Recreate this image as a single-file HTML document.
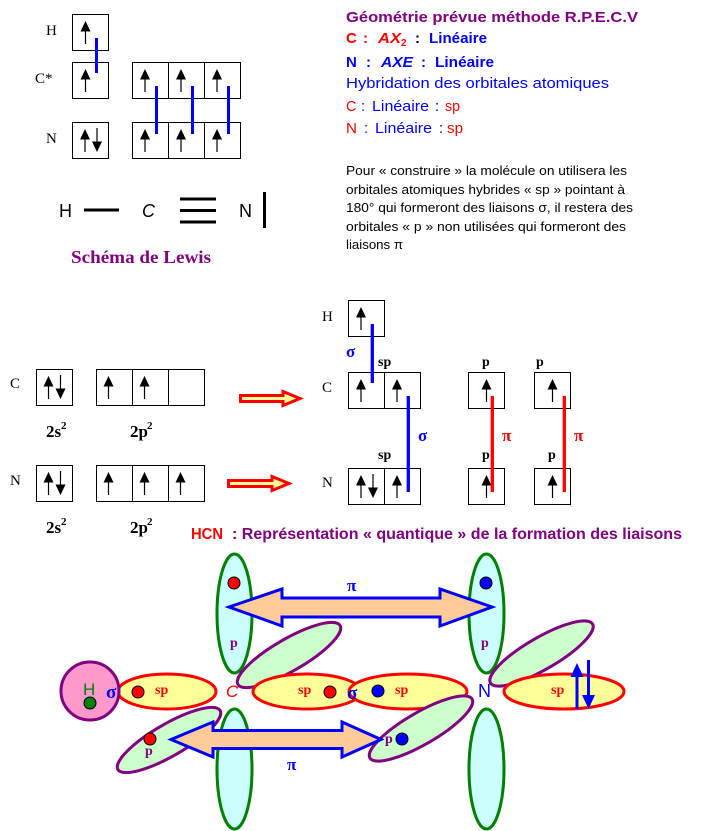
<!DOCTYPE html>
<html><head><meta charset="utf-8"><style>
html,body{margin:0;padding:0;background:#fff;}
svg{display:block;}
.sans{font-family:"Liberation Sans",sans-serif;}
.serif{font-family:"Liberation Serif",serif;}
</style></head><body>
<svg width="722" height="831" viewBox="0 0 722 831" xmlns="http://www.w3.org/2000/svg">
<defs>
<g id="ua"><line x1="0" y1="14" x2="0" y2="30" stroke="#000" stroke-width="1.2"/><polygon points="0,7 -5,17.5 5,17.5" fill="#000"/></g>
<g id="da"><line x1="0" y1="6" x2="0" y2="22" stroke="#000" stroke-width="1.2"/><polygon points="-5,19.5 5,19.5 0,30" fill="#000"/></g>
</defs>
<rect width="722" height="831" fill="#fff"/>

<!-- ===== Top-left orbital diagram ===== -->
<g fill="none" stroke="#000" stroke-width="1">
<rect x="72.5" y="14.5" width="36" height="36"/>
<rect x="72.5" y="62.5" width="36" height="36"/>
<rect x="132.5" y="62.5" width="108" height="36"/>
<line x1="168.5" y1="62.5" x2="168.5" y2="98.5"/><line x1="204.5" y1="62.5" x2="204.5" y2="98.5"/>
<rect x="72.5" y="122.5" width="36" height="36"/>
<rect x="132.5" y="122.5" width="108" height="36"/>
<line x1="168.5" y1="122.5" x2="168.5" y2="158.5"/><line x1="204.5" y1="122.5" x2="204.5" y2="158.5"/>
</g>
<use href="#ua" transform="translate(85.5,14)"/>
<use href="#ua" transform="translate(85.5,62)"/>
<use href="#ua" transform="translate(145,62)"/>
<use href="#ua" transform="translate(181,62)"/>
<use href="#ua" transform="translate(217,62)"/>
<use href="#ua" transform="translate(85,122)"/>
<use href="#da" transform="translate(97,122)"/>
<use href="#ua" transform="translate(145,122)"/>
<use href="#ua" transform="translate(181,122)"/>
<use href="#ua" transform="translate(217,122)"/>
<g stroke="#0000ff" stroke-width="3">
<line x1="96.5" y1="38" x2="96.5" y2="73"/>
<line x1="156.5" y1="86" x2="156.5" y2="134"/>
<line x1="192.5" y1="86" x2="192.5" y2="134"/>
<line x1="228.5" y1="86" x2="228.5" y2="134"/>
</g>
<g class="serif" font-size="15" fill="#000">
<text x="46" y="35">H</text>
<text x="35" y="83">C*</text>
<text x="46" y="143">N</text>
</g>

<!-- Lewis -->
<g class="sans" font-size="18" fill="#000">
<text x="59" y="217">H</text>
<text x="142" y="217" font-style="italic">C</text>
<text x="239" y="217">N</text>
</g>
<g fill="#000">
<rect x="84" y="208.5" width="35" height="3"/>
<rect x="180" y="197.5" width="36" height="3"/>
<rect x="180" y="209" width="36" height="3"/>
<rect x="180" y="220.5" width="36" height="3"/>
<rect x="263" y="192" width="3" height="36"/>
</g>
<text class="serif" x="71" y="263" font-size="18" font-weight="bold" fill="#800080" textLength="140" lengthAdjust="spacingAndGlyphs">Schéma de Lewis</text>

<!-- ===== Top-right text ===== -->
<g class="sans">
<text x="346" y="22" font-size="15" font-weight="bold" fill="#800080" textLength="292" lengthAdjust="spacingAndGlyphs">Géométrie prévue méthode R.P.E.C.V</text>

<g font-size="15" font-weight="bold">
<text x="346" y="43" fill="#ff0000">C</text>
<text x="363" y="43" fill="#ff0000">:</text>
<text x="378" y="43" fill="#ff0000" font-style="italic" textLength="23" lengthAdjust="spacingAndGlyphs">AX</text>
<text x="401" y="46" fill="#ff0000" font-size="10">2</text>
<text x="415" y="43" fill="#000">:</text>
<text x="429" y="43" fill="#0000ff" textLength="58" lengthAdjust="spacingAndGlyphs">Linéaire</text>

<text x="346" y="67" fill="#0000ff">N</text>
<text x="366" y="67" fill="#0000ff">:</text>
<text x="381" y="67" fill="#0000ff" font-style="italic" textLength="32" lengthAdjust="spacingAndGlyphs">AXE</text>
<text x="421" y="67" fill="#0000ff">:</text>
<text x="435" y="67" fill="#0000ff" textLength="59" lengthAdjust="spacingAndGlyphs">Linéaire</text>
</g>

<text x="346" y="88" font-size="14.5" fill="#0000ff" textLength="263" lengthAdjust="spacingAndGlyphs">Hybridation des orbitales atomiques</text>

<g font-size="14.5">
<text x="346" y="111" fill="#ff0000">C</text>
<text x="361" y="111" fill="#0000ff">:</text>
<text x="372" y="111" fill="#0000ff" textLength="57" lengthAdjust="spacingAndGlyphs">Linéaire</text>
<text x="435" y="111" fill="#000">:</text>
<text x="445" y="111" fill="#ff0000" textLength="15" lengthAdjust="spacingAndGlyphs">sp</text>

<text x="346" y="133" fill="#ff0000" textLength="11" lengthAdjust="spacingAndGlyphs">N</text>
<text x="364" y="133" fill="#0000ff">:</text>
<text x="375" y="133" fill="#0000ff" textLength="57" lengthAdjust="spacingAndGlyphs">Linéaire</text>
<text x="439" y="133" fill="#000">:</text>
<text x="447" y="133" fill="#ff0000" textLength="16" lengthAdjust="spacingAndGlyphs">sp</text>
</g>

<g font-size="13" fill="#000">
<text x="346" y="175" textLength="281" lengthAdjust="spacingAndGlyphs">Pour « construire » la molécule on utilisera les</text>
<text x="346" y="194" textLength="279" lengthAdjust="spacingAndGlyphs">orbitales atomiques hybrides « sp » pointant à</text>
<text x="346" y="212" textLength="287" lengthAdjust="spacingAndGlyphs">180° qui formeront des liaisons σ, il restera des</text>
<text x="346" y="231" textLength="280" lengthAdjust="spacingAndGlyphs">orbitales « p » non utilisées qui formeront des</text>
<text x="346" y="249" textLength="57" lengthAdjust="spacingAndGlyphs">liaisons π</text>
</g>
</g>

<!-- ===== Middle-left ===== -->
<g fill="none" stroke="#000" stroke-width="1">
<rect x="36.5" y="369.5" width="36" height="36"/>
<rect x="96.5" y="369.5" width="108" height="36"/>
<line x1="132.5" y1="369.5" x2="132.5" y2="405.5"/><line x1="168.5" y1="369.5" x2="168.5" y2="405.5"/>
<rect x="36.5" y="465.5" width="36" height="36"/>
<rect x="96.5" y="465.5" width="108" height="36"/>
<line x1="132.5" y1="465.5" x2="132.5" y2="501.5"/><line x1="168.5" y1="465.5" x2="168.5" y2="501.5"/>
</g>
<use href="#ua" transform="translate(48.5,369)"/>
<use href="#da" transform="translate(60.5,369)"/>
<use href="#ua" transform="translate(108.5,369)"/>
<use href="#ua" transform="translate(144.5,369)"/>
<use href="#ua" transform="translate(48.5,465)"/>
<use href="#da" transform="translate(60.5,465)"/>
<use href="#ua" transform="translate(108.5,465)"/>
<use href="#ua" transform="translate(144.5,465)"/>
<use href="#ua" transform="translate(180.5,465)"/>
<g class="serif" fill="#000">
<text x="10" y="388" font-size="15">C</text>
<text x="10" y="485" font-size="15">N</text>
<g font-weight="bold" font-size="17">
<text x="46" y="437">2s</text><text x="61" y="429" font-size="11">2</text>
<text x="130" y="437">2p</text><text x="147" y="429" font-size="11">2</text>
<text x="46" y="533">2s</text><text x="61" y="525" font-size="11">2</text>
<text x="130" y="533">2p</text><text x="147" y="525" font-size="11">2</text>
</g>
</g>
<g fill="#ffff99" stroke="#ff0000" stroke-width="3" stroke-linejoin="miter" stroke-miterlimit="10">
<polygon points="240.5,395.5 283,395.5 283,391.5 300,398.5 283,405.5 283,401.5 240.5,401.5"/>
<polygon points="228.5,480.5 272,480.5 272,476.5 289,483.5 272,490.5 272,486.5 228.5,486.5"/>
</g>

<!-- ===== Middle-right ===== -->
<g fill="none" stroke="#000" stroke-width="1">
<rect x="348.5" y="300.5" width="36" height="36"/>
<rect x="348.5" y="372.5" width="72" height="36"/><line x1="384.5" y1="372.5" x2="384.5" y2="408.5"/>
<rect x="468.5" y="372.5" width="36" height="36"/>
<rect x="534.5" y="372.5" width="36" height="36"/>
<rect x="348.5" y="468.5" width="72" height="36"/><line x1="384.5" y1="468.5" x2="384.5" y2="504.5"/>
<rect x="468.5" y="468.5" width="36" height="36"/>
<rect x="534.5" y="468.5" width="36" height="36"/>
</g>
<use href="#ua" transform="translate(361,300)"/>
<use href="#ua" transform="translate(361,372)"/>
<use href="#ua" transform="translate(397,372)"/>
<use href="#ua" transform="translate(486.5,372)"/>
<use href="#ua" transform="translate(552.5,372)"/>
<use href="#ua" transform="translate(361,468)"/>
<use href="#da" transform="translate(373,468)"/>
<use href="#ua" transform="translate(397,468)"/>
<use href="#ua" transform="translate(486.5,468)"/>
<use href="#ua" transform="translate(552.5,468)"/>
<g stroke-width="3.3">
<line x1="372.3" y1="324" x2="372.3" y2="383" stroke="#0000ff"/>
<line x1="408.3" y1="396" x2="408.3" y2="492" stroke="#0000ff"/>
<line x1="492.3" y1="396" x2="492.3" y2="492" stroke="#ff0000"/>
<line x1="564.3" y1="396" x2="564.3" y2="492" stroke="#ff0000"/>
</g>
<g class="serif" fill="#000">
<text x="322" y="321" font-size="15">H</text>
<text x="322" y="392" font-size="15">C</text>
<text x="322" y="487" font-size="15">N</text>
<g font-weight="bold" font-size="14">
<text x="378" y="366">sp</text>
<text x="482" y="366">p</text>
<text x="536" y="366">p</text>
<text x="378" y="459">sp</text>
<text x="482" y="459">p</text>
<text x="548" y="459">p</text>
</g>
<g font-weight="bold" font-size="17">
<text x="346" y="357" fill="#0000ff">σ</text>
<text x="418" y="441" fill="#0000ff">σ</text>
<text x="502" y="441" fill="#ff0000">π</text>
<text x="574" y="441" fill="#ff0000">π</text>
</g>
</g>

<!-- ===== Bottom title ===== -->
<g class="sans" font-size="16" font-weight="bold">
<text x="191" y="539" fill="#ff0000" textLength="32" lengthAdjust="spacingAndGlyphs">HCN</text>
<text x="232" y="539" fill="#800080" textLength="450" lengthAdjust="spacingAndGlyphs">: Représentation « quantique » de la formation des liaisons</text>
</g>

<!-- ===== Bottom quantum diagram ===== -->
<g fill="#ccffff" stroke="#008000" stroke-width="3">
<ellipse cx="234.5" cy="613.5" rx="17.5" ry="59.5"/>
<ellipse cx="234.5" cy="769" rx="17.5" ry="60"/>
<ellipse cx="486.5" cy="613.5" rx="17.5" ry="59.5"/>
<ellipse cx="486.5" cy="769" rx="17.5" ry="60"/>
</g>
<g fill="#ccffcc" stroke="#800080" stroke-width="3">
<ellipse cx="289" cy="655" rx="59" ry="16" transform="rotate(-30 289 655)"/>
<ellipse cx="541.5" cy="653.5" rx="59" ry="16" transform="rotate(-30 541.5 653.5)"/>
</g>
<g fill="#ffff99" stroke="#ff0000" stroke-width="3">
<ellipse cx="167" cy="691.5" rx="49" ry="17.5"/>
<ellipse cx="307" cy="691.5" rx="54" ry="17.5"/>
<ellipse cx="408" cy="691.5" rx="59" ry="17.5"/>
<ellipse cx="564" cy="691.5" rx="60" ry="17.5"/>
</g>
<circle cx="90" cy="691" r="29" fill="#ff99cc" stroke="#800080" stroke-width="3"/>
<g fill="#ccffcc" stroke="#800080" stroke-width="3">
<ellipse cx="169" cy="740" rx="59" ry="16" transform="rotate(-30 169 740)"/>
<ellipse cx="421" cy="728.5" rx="59" ry="16" transform="rotate(-30 421 728.5)"/>
</g>
<g class="sans">
<text x="83" y="695" font-size="17" fill="#008000">H</text>
</g>
<g stroke="#000" stroke-width="1">
<circle cx="90" cy="703" r="6" fill="#008000"/>
<circle cx="138" cy="692" r="6" fill="#ff0000"/>
<circle cx="330" cy="692" r="6" fill="#ff0000"/>
<circle cx="378" cy="691" r="6" fill="#0000ff"/>
<circle cx="234" cy="583" r="6" fill="#ff0000"/>
<circle cx="486" cy="583" r="6" fill="#0000ff"/>
<circle cx="150" cy="739" r="6" fill="#ff0000"/>
<circle cx="402" cy="739" r="6" fill="#0000ff"/>
</g>
<g fill="#ffcc99" stroke="#0000ff" stroke-width="3" stroke-linejoin="miter" stroke-miterlimit="10">
<polygon points="229,607 282,589 282,598 440,598 440,589 492,607 440,626 440,617 282,617 282,626"/>
<polygon points="171,739.5 213,722 213,730.5 342,730.5 342,722 381,739.5 342,757 342,748.5 213,748.5 213,757"/>
</g>
<g fill="#0000ff" stroke="#0000ff">
<line x1="577" y1="672" x2="577" y2="709" stroke-width="3"/>
<polygon points="577,663 570.5,677 583.5,677" stroke="none"/>
<line x1="588.5" y1="660" x2="588.5" y2="697" stroke-width="3"/>
<polygon points="588.5,709 582,695 595,695" stroke="none"/>
</g>
<g class="sans">
<text x="226" y="697" font-size="17" fill="#ff0000" font-style="italic">C</text>
<text x="478" y="697" font-size="18" fill="#0000ff">N</text>
</g>
<g class="serif" font-weight="bold">
<text x="106" y="698" font-size="19" fill="#0000ff">σ</text>
<text x="347" y="699" font-size="19" fill="#0000ff">σ</text>
<text x="155" y="694" font-size="14" fill="#ff0000">sp</text>
<text x="298" y="694" font-size="14" fill="#ff0000">sp</text>
<text x="395" y="694" font-size="14" fill="#ff0000">sp</text>
<text x="551" y="694" font-size="14" fill="#ff0000">sp</text>
<text x="347" y="591" font-size="17" fill="#0000ff">π</text>
<text x="287" y="770" font-size="17" fill="#0000ff">π</text>
<text x="230" y="647" font-size="14" fill="#800080">p</text>
<text x="481" y="647" font-size="14" fill="#800080">p</text>
<text x="145" y="755" font-size="14" fill="#800080">p</text>
<text x="385" y="743" font-size="14" fill="#800080">p</text>
</g>
</svg>
</body></html>
